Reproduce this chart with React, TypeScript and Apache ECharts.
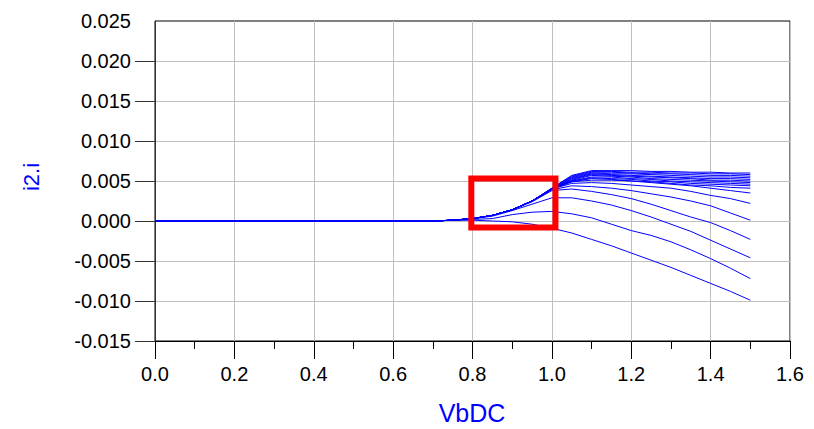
import React, { useEffect, useRef } from "react";
import * as echarts from "echarts";

// VbDC sweep points (V)
const VB = [0, 0.7, 0.75, 0.8, 0.85, 0.9, 0.95, 1.0, 1.05, 1.1, 1.15, 1.2, 1.25, 1.3, 1.35, 1.4, 1.45, 1.5];

// i2.i curves (A), one per swept parameter value
const C1 = [0, 0, 0.0001, 0.0001, 0.0, -0.0001, -0.0004, -0.0009, -0.0015, -0.0023, -0.0031, -0.004, -0.0049, -0.0058, -0.0068, -0.0078, -0.0088, -0.0099];
const C2 = [0, 0, 0.0001, 0.0002, 0.0003, 0.0008, 0.0011, 0.0012, 0.0009, 0.0004, -0.0004, -0.0012, -0.0018, -0.0026, -0.0036, -0.0047, -0.0059, -0.0072];
const C3 = [0, 0, 0.0001, 0.0003, 0.0006, 0.0013, 0.0021, 0.0029, 0.0029, 0.0025, 0.002, 0.0013, 0.0005, -0.0004, -0.0013, -0.0024, -0.0035, -0.0046];
const C4 = [0, 0, 0.0001, 0.0003, 0.0007, 0.0014, 0.0024, 0.0038, 0.004, 0.0037, 0.0033, 0.0028, 0.0021, 0.0013, 0.0005, -0.0002, -0.0012, -0.0023];
const C5 = [0, 0, 0.0001, 0.0003, 0.0007, 0.0014, 0.0025, 0.0039, 0.0044, 0.0043, 0.0041, 0.0038, 0.0034, 0.003, 0.0025, 0.0019, 0.001, 0.0001];
const C6 = [0, 0, 0.0001, 0.0003, 0.0007, 0.0014, 0.0025, 0.004, 0.0047, 0.0048, 0.0047, 0.0045, 0.0043, 0.0041, 0.0037, 0.0032, 0.0028, 0.0022];
const C7 = [0, 0, 0.0001, 0.0003, 0.0007, 0.0014, 0.0025, 0.004, 0.0049, 0.0051, 0.0051, 0.005, 0.0048, 0.0046, 0.0044, 0.0041, 0.0038, 0.0035];
const C8 = [0, 0, 0.0001, 0.0003, 0.0007, 0.0014, 0.0025, 0.004, 0.0049, 0.0053, 0.0052, 0.005, 0.0049, 0.0047, 0.0045, 0.0044, 0.0042, 0.0041];
const C9 = [0, 0, 0.0001, 0.0003, 0.0007, 0.0014, 0.0025, 0.004, 0.005, 0.0054, 0.0053, 0.0052, 0.005, 0.0049, 0.0047, 0.0046, 0.0045, 0.0044];
const C10 = [0, 0, 0.0001, 0.0003, 0.0007, 0.0014, 0.0025, 0.004, 0.005, 0.0055, 0.0055, 0.0053, 0.0052, 0.005, 0.0049, 0.0048, 0.0047, 0.0046];
const C11 = [0, 0, 0.0001, 0.0003, 0.0007, 0.0014, 0.0025, 0.004, 0.0051, 0.0057, 0.0056, 0.0055, 0.0053, 0.0052, 0.0051, 0.005, 0.0049, 0.0048];
const C12 = [0, 0, 0.0001, 0.0003, 0.0007, 0.0014, 0.0025, 0.004, 0.0052, 0.0058, 0.0057, 0.0056, 0.0055, 0.0054, 0.0053, 0.0051, 0.0051, 0.005];
const C13 = [0, 0, 0.0001, 0.0003, 0.0007, 0.0014, 0.0025, 0.004, 0.0053, 0.0059, 0.0058, 0.0057, 0.0056, 0.0055, 0.0054, 0.0053, 0.0053, 0.0052];
const C14 = [0, 0, 0.0001, 0.0003, 0.0007, 0.0014, 0.0025, 0.004, 0.0054, 0.006, 0.0059, 0.0059, 0.0058, 0.0057, 0.0056, 0.0055, 0.0055, 0.0054];
const C15 = [0, 0, 0.0001, 0.0003, 0.0007, 0.0014, 0.0025, 0.0041, 0.0055, 0.0061, 0.0061, 0.006, 0.0059, 0.0059, 0.0058, 0.0057, 0.0057, 0.0056];
const C16 = [0, 0, 0.0001, 0.0003, 0.0007, 0.0014, 0.0025, 0.0041, 0.0056, 0.0062, 0.0062, 0.0061, 0.0061, 0.006, 0.006, 0.0059, 0.0059, 0.0058];
const C17 = [0, 0, 0.0001, 0.0003, 0.0007, 0.0014, 0.0025, 0.0041, 0.0057, 0.0063, 0.0063, 0.0063, 0.0062, 0.0062, 0.0061, 0.0061, 0.006, 0.006];

const CURVES = [C1, C2, C3, C4, C5, C6, C7, C8, C9, C10, C11, C12, C13, C14, C15, C16, C17];

// Highlight box corners (data units)
const BOX_X = [0.797, 1.009];
const BOX_Y = [-0.0008, 0.0053];

// Axis tick values
const X_MIN = 0;
const X_MAX = 1.6;
const X_STEP = 0.2;
const Y_MIN = -0.015;
const Y_MAX = 0.025;
const Y_STEP = 0.005;
const Y_TICKS = [-0.015, -0.01, -0.005, 0, 0.005, 0.01, 0.015, 0.02];

const FONT = "'Liberation Sans', Arial, Helvetica, sans-serif";

export default function App() {
  const ref = useRef<HTMLDivElement>(null);

  useEffect(() => {
    if (!ref.current) return;
    const chart = echarts.init(ref.current, undefined, { renderer: "svg" });

    const curveSeries = CURVES.map((vals, i) => ({
      type: "line",
      name: "c" + (i + 1),
      data: VB.map((x, j) => [x, vals[j]]),
      symbol: "none",
      lineStyle: { color: "#0000ff", width: 1 },
      z: 3,
    }));

    const box = [
      [BOX_X[0], BOX_Y[1]],
      [BOX_X[1], BOX_Y[1]],
      [BOX_X[1], BOX_Y[0]],
      [BOX_X[0], BOX_Y[0]],
      [BOX_X[0], BOX_Y[1]],
    ];

    chart.setOption({
      animation: false,
      backgroundColor: "#ffffff",
      grid: {
        left: 155,
        top: 21,
        right: 24,
        bottom: 88,
        show: true,
        borderColor: "#000000",
        borderWidth: 1,
        outerBoundsMode: "none",
      },
      xAxis: {
        type: "value",
        min: X_MIN,
        max: X_MAX,
        interval: X_STEP,
        axisLine: { show: true, onZero: false, lineStyle: { color: "#000000", width: 1 } },
        axisTick: { show: true, inside: false, length: 18, lineStyle: { color: "#000000", width: 1 } },
        minorTick: { show: true, splitNumber: 2, length: 8, lineStyle: { color: "#000000", width: 1 } },
        splitLine: { show: true, lineStyle: { color: "#c0c0c0", width: 1 } },
        axisLabel: {
          color: "#000000",
          fontFamily: FONT,
          fontSize: 20,
          margin: 23,
          formatter: (v: number) => v.toFixed(1),
        },
      },
      yAxis: {
        type: "value",
        min: Y_MIN,
        max: Y_MAX,
        interval: Y_STEP,
        axisLine: { show: true, onZero: false, lineStyle: { color: "#333333", width: 1 } },
        axisTick: {
          show: true,
          inside: false,
          length: 20,
          customValues: Y_TICKS,
          lineStyle: { color: "#333333", width: 1 },
        },
        splitLine: { show: true, lineStyle: { color: "#c0c0c0", width: 1 } },
        axisLabel: {
          color: "#000000",
          fontFamily: FONT,
          fontSize: 20,
          margin: 24,
          formatter: (v: number) => v.toFixed(3),
        },
      },
      graphic: [
        {
          type: "text",
          x: 31,
          y: 177,
          rotation: Math.PI / 2,
          style: {
            text: "i2.i",
            fill: "#0000ff",
            font: `22px ${FONT}`,
            textAlign: "center",
            textVerticalAlign: "middle",
          },
        },
        {
          type: "text",
          x: 472,
          y: 413,
          style: {
            text: "VbDC",
            fill: "#0000ff",
            font: `25px ${FONT}`,
            textAlign: "center",
            textVerticalAlign: "middle",
          },
        },
      ],
      series: [
        ...curveSeries,
        {
          type: "line",
          name: "box",
          data: box,
          symbol: "none",
          lineStyle: { color: "#ff0000", width: 6, join: "miter", cap: "square" },
          z: 10,
        },
      ],
    });

    return () => {
      chart.dispose();
    };
  }, []);

  return (
    <div
      ref={ref}
      style={{ position: "fixed", left: 0, top: 0, width: 814, height: 429, background: "#fff" }}
    />
  );
}
